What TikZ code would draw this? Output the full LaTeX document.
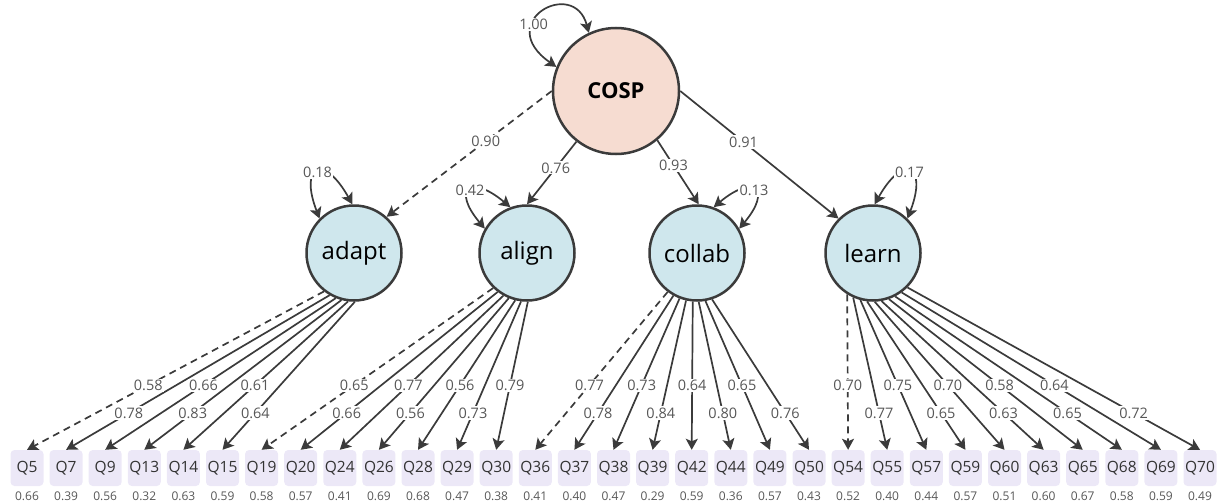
\documentclass[tikz,border=0pt]{standalone}
\usepackage{fontspec}
\setmainfont{Open Sans}
\usepackage{tikz}
\usepackage{xcolor}
\usetikzlibrary{shapes.geometric, arrows.meta, positioning, calc}

\definecolor{cospfill}{HTML}{F6DCD1}
\definecolor{factblue}{HTML}{CFE7ED}
\definecolor{itemlav}{HTML}{ECE8F7}
\definecolor{edgegray}{HTML}{3B3B3B}
\definecolor{textgray}{HTML}{575757}
\definecolor{textdark}{HTML}{333333}

% item / factor / start angle / label height / line / loading / residual
\def\itemlist{Q5/adapt/232/385/firstload/0.58/0.66, Q7/adapt/240/413/solid/0.78/0.39,
  Q9/adapt/248/385/solid/0.66/0.56, Q13/adapt/255/413/solid/0.83/0.32,
  Q14/adapt/263/385/solid/0.61/0.63, Q15/adapt/271/413/solid/0.64/0.59,
  Q19/align/226/385/firstload/0.65/0.58, Q20/align/233.5/413/solid/0.66/0.57,
  Q24/align/241/385/solid/0.77/0.41, Q26/align/248.5/413/solid/0.56/0.69,
  Q28/align/256/385/solid/0.56/0.68, Q29/align/263.5/413/solid/0.73/0.47,
  Q30/align/271/385/solid/0.79/0.38,
  Q36/collab/233/385/firstload/0.77/0.41, Q37/collab/241/413/solid/0.78/0.40,
  Q38/collab/249/385/solid/0.73/0.47, Q39/collab/257/413/solid/0.84/0.29,
  Q42/collab/265/385/solid/0.64/0.59, Q44/collab/272/413/solid/0.80/0.36,
  Q49/collab/280/385/solid/0.65/0.57, Q50/collab/288/413/solid/0.76/0.43,
  Q54/learn/238/385/firstload/0.70/0.52, Q55/learn/246.5/413/solid/0.77/0.40,
  Q57/learn/255/385/solid/0.75/0.44, Q59/learn/263.5/413/solid/0.65/0.57,
  Q60/learn/272/385/solid/0.70/0.51, Q63/learn/280.5/413/solid/0.63/0.60,
  Q65/learn/289/385/solid/0.58/0.67, Q68/learn/297.5/413/solid/0.65/0.58,
  Q69/learn/306/385/solid/0.64/0.59, Q70/learn/315/413/solid/0.72/0.49}

\begin{document}
\begin{tikzpicture}[x=1pt, y=1pt,
  >={Stealth[length=11pt,width=12pt,inset=2.5pt]},
  latent/.style={circle, draw=edgegray, line width=2.5pt, inner sep=0pt},
  factor/.style={latent, fill=factblue, minimum size=95pt, text=black, font=\fontsize{24}{28}\selectfont},
  item/.style={rectangle, rounded corners=4pt, fill=itemlav, minimum width=33pt, minimum height=36pt, inner sep=0pt, text=textdark, font=\fontsize{15.5}{18}\selectfont},
  resid/.style={text=textgray, inner sep=0pt, font=\fontsize{12}{14}\selectfont},
  loading/.style={->, draw=edgegray, line width=1.7pt},
  firstload/.style={dash pattern=on 7pt off 5pt},
  lbl/.style={fill=white, inner sep=1.2pt, text=textgray, font=\fontsize{14.5}{16}\selectfont},
  resloop/.style={<->, draw=edgegray, line width=1.7pt}]
\useasboundingbox (0,0) rectangle (1217,-503);

% Second-order factor and first-order factors
\node[latent, fill=cospfill, minimum size=126pt, font=\bfseries\fontsize{22}{26}\selectfont] (COSP) at (616,-91) {COSP};
\node[factor] (adapt) at (354,-253) {adapt};
\node[factor] (align) at (527,-253) {align};
\node[factor] (collab) at (697,-253) {collab};
\node[factor] (learn) at (873,-253) {learn};

\draw[loading,firstload] (COSP.180) -- (adapt.48) node[lbl,pos=0.4] {0.90};
\draw[loading] (COSP.232) -- (align.90) node[lbl,pos=0.42] {0.76};
\draw[loading] (COSP.310) -- (collab.88) node[lbl,pos=0.39] {0.93};
\draw[loading] (COSP.0) -- (learn.135) node[lbl,pos=0.4] {0.91};

% Variances
\draw[resloop] (COSP.115) .. controls +(105:58) and +(145:78) .. (COSP.158) node[lbl,pos=0.65] {1.00};
\draw[resloop] (adapt.92) .. controls +(119:58) and +(111:58) .. (adapt.135) node[lbl,pos=0.5] {0.18};
\draw[resloop] (align.110) .. controls +(140:52) and +(130:52) .. (align.150) node[lbl,pos=0.5] {0.42};
\draw[resloop] (collab.70) .. controls +(40:52) and +(50:52) .. (collab.30) node[lbl,pos=0.5] {0.13};
\draw[resloop] (learn.88) .. controls +(61:58) and +(69:58) .. (learn.45) node[lbl,pos=0.5] {0.17};

% Items with residuals
\foreach \q/\f/\a/\yl/\st/\ld/\res [count=\i from 0] in \itemlist {
  \node[item] (\q) at ({27+39.1*\i},-468) {\q};
  \node[resid] (r\q) at ([yshift=-28pt]\q) {\res};
}
\foreach \q/\f/\a/\yl/\st/\ld/\res in \itemlist
  \draw[loading,\st] (\f.\a) -- (\q.north);
\foreach \q/\f/\a/\yl/\st/\ld/\res in \itemlist {
  \pgfmathsetmacro\lpos{(\yl-253+48*sin(\a))/(197+48*sin(\a))}
  \path (\f.\a) -- (\q.north) node[lbl,pos=\lpos] {\ld};
}
\end{tikzpicture}
\end{document}
